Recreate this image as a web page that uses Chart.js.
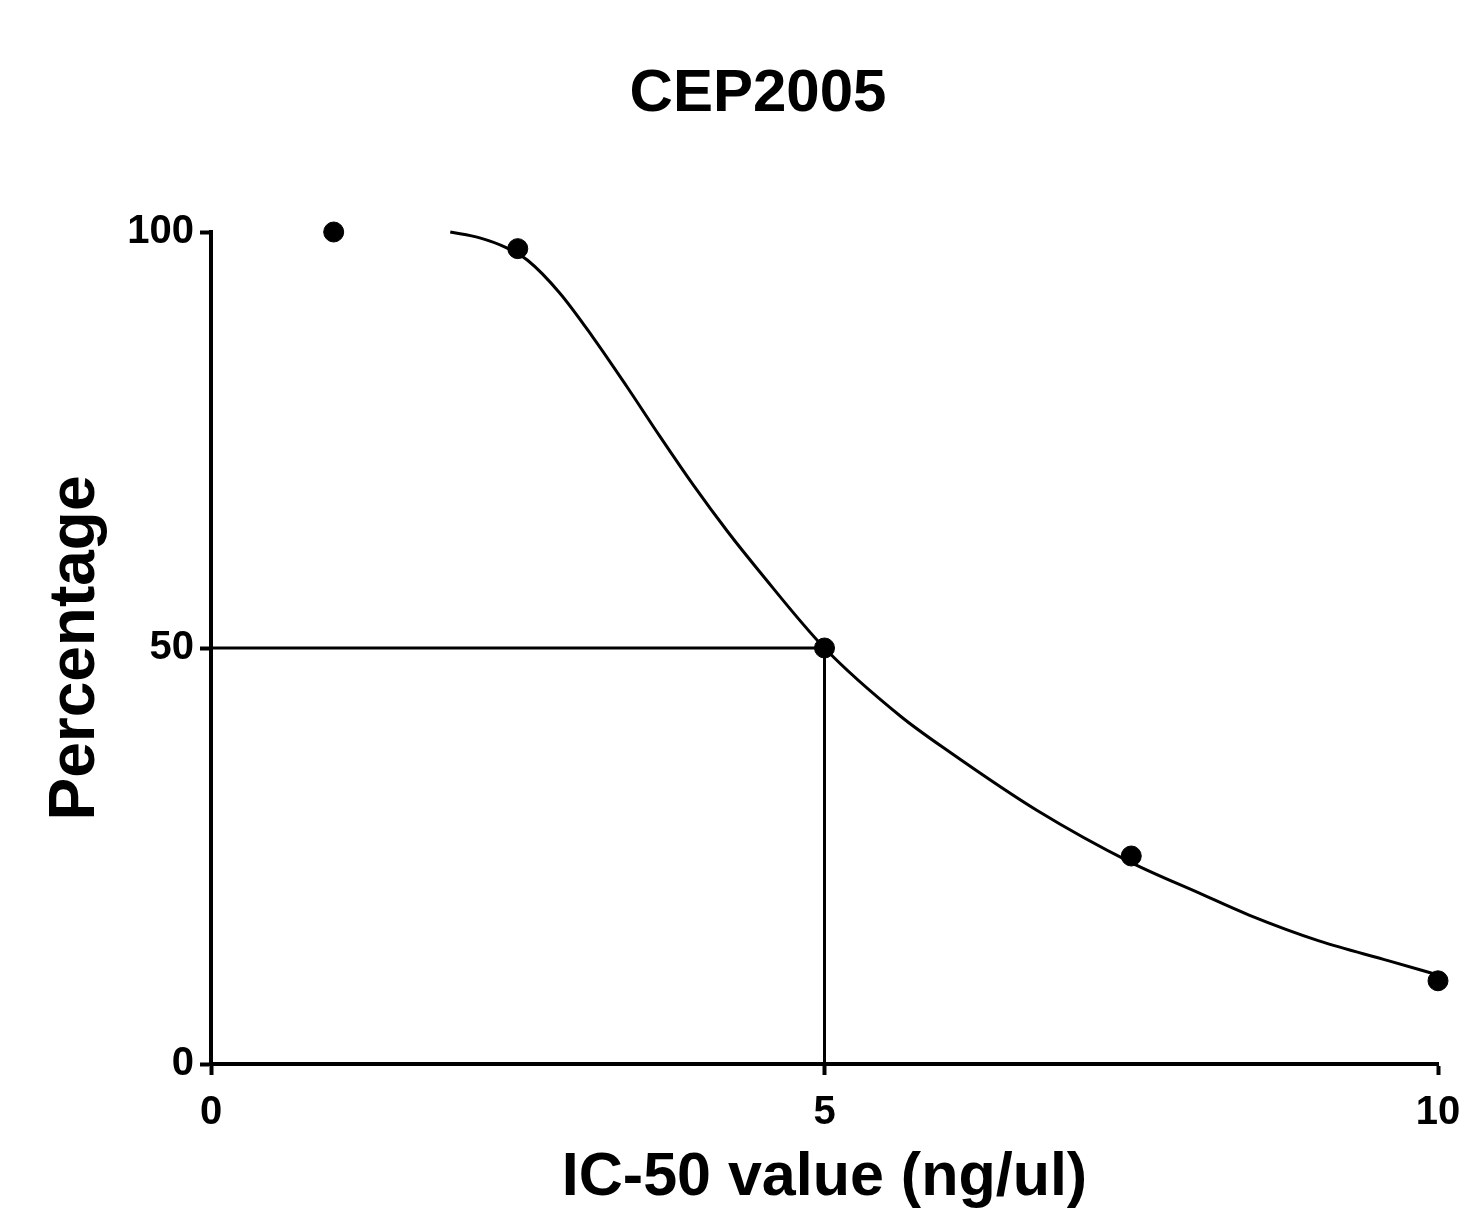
<!DOCTYPE html>
<html>
<head>
<meta charset="utf-8">
<script src="https://cdn.jsdelivr.net/npm/chart.js@4"></script>
<style>
  html, body { margin: 0; padding: 0; background: #fff; }
  #wrap { width: 1463px; height: 1209px; }
</style>
</head>
<body>
<div id="wrap"><canvas id="ic50Chart"></canvas></div>
<script>
// measured points
const doseX = [1, 2.5, 5, 7.5, 10];
const percentY = [100, 98, 50, 25, 10];

// fitted curve
const fitX = [1.95, 2.19, 2.41, 2.58, 2.84, 3.11, 3.39, 3.66, 3.93, 4.21, 4.47, 5.0, 5.62, 6.02, 6.73, 7.5, 8.06, 8.46, 9.03, 9.6, 10];
const fitY = [100, 99.3, 98.1, 96.6, 92.7, 87.4, 81.4, 75.4, 69.6, 64.0, 59.2, 50, 41.8, 37.5, 30.5, 24.2, 20.5, 17.9, 14.8, 12.4, 10.7];

// IC50 guide lines
const ic50 = 5;
const halfLevel = 50;

const xTicks = [0, 5, 10];
const yTicks = [0, 50, 100];

const FONT = "'Liberation Sans', Arial, sans-serif";

const toPoints = (xs, ys) => xs.map((x, i) => ({ x: x, y: ys[i] }));

document.addEventListener('DOMContentLoaded', () => {
    const ctx = document.getElementById('ic50Chart').getContext('2d');
    new Chart(ctx, {
        type: 'scatter',
        data: {
            datasets: [{
                label: 'Data',
                data: toPoints(doseX, percentY),
                backgroundColor: '#000',
                borderColor: '#000',
                pointRadius: 10,
                showLine: false,
                clip: false
            }, {
                label: 'Fit',
                data: toPoints(fitX, fitY),
                borderColor: '#000',
                borderWidth: 3,
                pointRadius: 0,
                showLine: true,
                cubicInterpolationMode: 'monotone',
                clip: false
            }, {
                label: 'IC50',
                data: [{ x: 0, y: halfLevel }, { x: ic50, y: halfLevel }, { x: ic50, y: 0 }],
                borderColor: '#000',
                borderWidth: 3,
                pointRadius: 0,
                showLine: true,
                tension: 0
            }]
        },
        options: {
            responsive: true,
            maintainAspectRatio: false,
            animation: false,
            layout: { padding: { left: 53, right: 0, top: 0, bottom: 0 } },
            plugins: {
                legend: { display: false },
                tooltip: { enabled: false },
                title: {
                    display: true,
                    text: 'CEP2005',
                    color: '#000',
                    font: { family: FONT, size: 60, weight: 'bold', lineHeight: 1.2 },
                    padding: { top: 58, bottom: 102 }
                }
            },
            scales: {
                x: {
                    type: 'linear',
                    min: 0,
                    max: 10,
                    afterFit: (scale) => {
                        scale.height = 145;
                        scale.paddingRight = 25;
                    },
                    afterBuildTicks: (scale) => { scale.ticks = xTicks.map(v => ({ value: v })); },
                    ticks: {
                        color: '#000',
                        padding: 14,
                        maxRotation: 0,
                        font: { family: FONT, size: 40, weight: 'bold' }
                    },
                    grid: {
                        drawOnChartArea: false,
                        drawTicks: true,
                        tickLength: 11,
                        tickWidth: 4,
                        tickColor: '#000',
                        color: '#000'
                    },
                    border: { display: true, color: '#000', width: 4 },
                    title: {
                        display: true,
                        text: 'IC-50 value (ng/ul)',
                        color: '#000',
                        font: { family: FONT, size: 61, weight: 'bold', lineHeight: 1 },
                        padding: { top: 0, bottom: 0 }
                    }
                },
                y: {
                    type: 'linear',
                    min: 0,
                    max: 100,
                    afterFit: (scale) => { scale.width = 158; },
                    afterBuildTicks: (scale) => { scale.ticks = yTicks.map(v => ({ value: v })); },
                    ticks: {
                        color: '#000',
                        padding: 6,
                        font: { family: FONT, size: 40, weight: 'bold' }
                    },
                    grid: {
                        drawOnChartArea: false,
                        drawTicks: true,
                        tickLength: 11,
                        tickWidth: 4,
                        tickColor: '#000',
                        color: '#000'
                    },
                    border: { display: true, color: '#000', width: 4 },
                    title: {
                        display: true,
                        text: 'Percentage',
                        color: '#000',
                        font: { family: FONT, size: 64, weight: 'bold', lineHeight: 0.7 },
                        padding: { top: 1, bottom: 0 }
                    }
                }
            }
        }
    });
});
</script>
</body>
</html>
